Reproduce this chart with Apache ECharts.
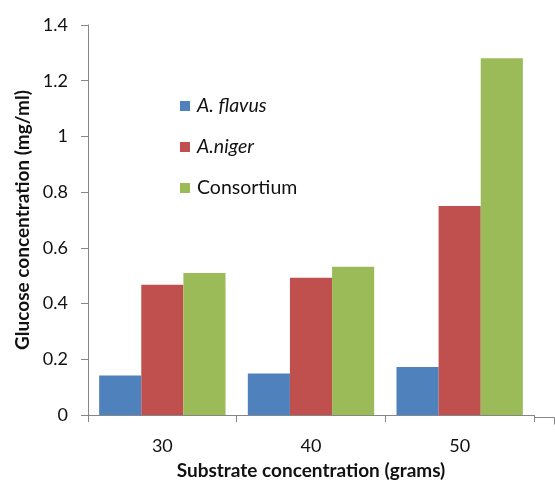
<!DOCTYPE html>
<html><head><meta charset="utf-8">
<script src="https://cdn.jsdelivr.net/npm/echarts@6/dist/echarts.min.js"></script>
<style>html,body{margin:0;padding:0;background:#fff}#c{width:555px;height:485px}</style>
</head><body><div id="c"></div>
<script>
var categories = ['30', '40', '50'];
var seriesNames = ['A. flavus', 'A.niger', 'Consortium'];
var aFlavus = [0.142, 0.149, 0.172];
var aNiger = [0.468, 0.493, 0.750];
var consortium = [0.510, 0.532, 1.281];
var yTicks = [0, 0.2, 0.4, 0.6, 0.8, 1, 1.2, 1.4];

var colors = ['#4F81BD', '#C0504D', '#9BBB59'];
var font = 'Lato';
var chart = echarts.init(document.getElementById('c'), null, {renderer: 'canvas'});
var values = [aFlavus, aNiger, consortium];
chart.setOption({
  animation: false,
  textStyle: {fontFamily: font},
  grid: {left: 88, right: 21, top: 25, bottom: 68, containLabel: false},
  legend: {
    orient: 'vertical', left: 175, top: 91, itemGap: 21,
    itemWidth: 10, itemHeight: 10, icon: 'rect',
    data: seriesNames,
    formatter: function (n) { return n === 'Consortium' ? n : '{i|' + n + '}'; },
    textStyle: {fontFamily: font, fontSize: 19.5, color: '#111', padding: [0, 0, 0, 2],
      rich: {i: {fontStyle: 'italic', fontFamily: font, fontSize: 19.5, color: '#111'}}}
  },
  xAxis: {
    type: 'category', data: categories,
    name: 'Substrate concentration (grams)', nameLocation: 'middle', nameGap: 46,
    nameTextStyle: {fontWeight: 'bold', fontSize: 19, color: '#111', fontFamily: font},
    axisLine: {lineStyle: {color: '#868686', width: 1}},
    axisTick: {show: true, length: 7, lineStyle: {color: '#868686'}},
    axisLabel: {fontSize: 18, color: '#111', margin: 22, fontFamily: font}
  },
  yAxis: {
    type: 'value', min: yTicks[0], max: yTicks[yTicks.length - 1], interval: 0.2,
    name: 'Glucose concentration (mg/ml)', nameLocation: 'middle', nameGap: 56,
    nameTextStyle: {fontWeight: 'bold', fontSize: 19, color: '#111', fontFamily: font},
    splitLine: {show: false},
    axisLine: {show: true, lineStyle: {color: '#868686', width: 1}},
    axisTick: {show: true, length: 7, lineStyle: {color: '#868686'}},
    axisLabel: {fontSize: 18, color: '#111', margin: 20, fontFamily: font,
      formatter: function (v) { return String(Math.round(v * 10) / 10); }}
  },
  series: seriesNames.map(function (n, i) {
    return {name: n, type: 'bar', data: values[i], barGap: '0%', barCategoryGap: '15%',
      itemStyle: {color: colors[i]}};
  }),
  graphic: [
    {type: 'line', shape: {x1: 534, y1: 417.5, x2: 554.5, y2: 417.5}, style: {stroke: '#868686', lineWidth: 1}},
    {type: 'line', shape: {x1: 554.5, y1: 417.5, x2: 554.5, y2: 424.5}, style: {stroke: '#868686', lineWidth: 1}}
  ]
});
</script></body></html>
